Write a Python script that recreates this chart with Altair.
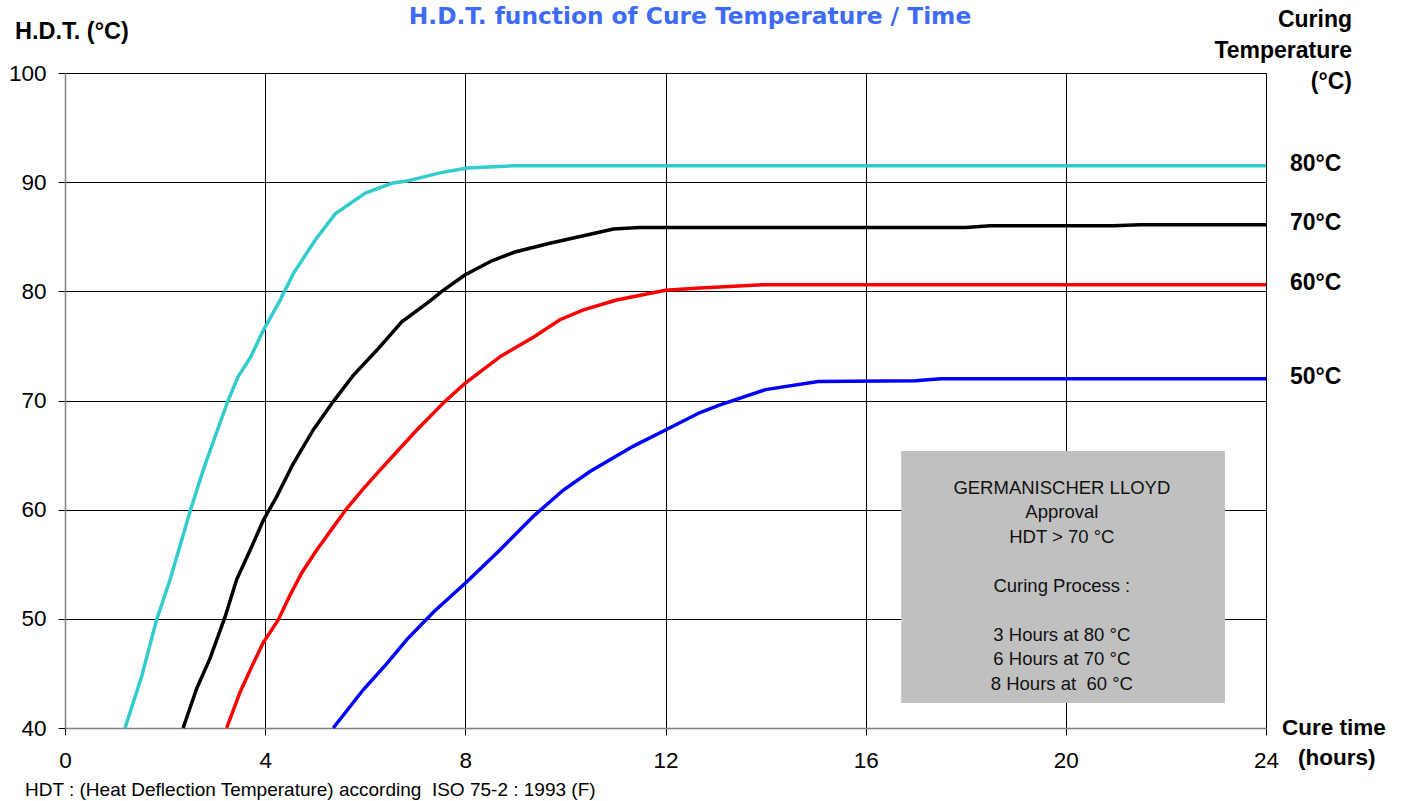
import altair as alt
import pandas as pd

FONT = "Liberation Sans"
NBSP = "\u00a0"

# ---- data ----
t80 = [1.2, 1.53, 1.83, 2.1, 2.33, 2.53, 2.76, 3.0, 3.26, 3.46, 3.7, 3.96, 4.3, 4.56, 5.0, 5.4,
       6.0, 6.53, 6.83, 7.49, 8.03, 8.95, 24]
h80 = [40.0, 44.7, 49.9, 53.6, 57.2, 60.3, 63.6, 66.7, 70.0, 72.2, 73.9, 76.4, 79.2, 81.6, 84.7, 87.1,
       89.0, 89.9, 90.1, 90.85, 91.3, 91.5, 91.5]

t70 = [2.36, 2.63, 2.9, 3.2, 3.43, 3.73, 3.96, 4.23, 4.56, 4.96, 5.36, 5.76, 6.23, 6.73, 7.29, 7.53,
       7.99, 8.53, 8.99, 9.69, 10.96, 11.49, 18.0, 18.49, 20.95, 21.48, 24]
h70 = [40.0, 43.6, 46.4, 50.2, 53.6, 56.6, 59.0, 61.2, 64.2, 67.3, 69.9, 72.3, 74.6, 77.2, 79.1, 80.0,
       81.5, 82.8, 83.6, 84.4, 85.7, 85.85, 85.85, 86.0, 86.0, 86.1, 86.1]

t60 = [3.23, 3.5, 3.73, 3.96, 4.26, 4.5, 4.73, 5.03, 5.36, 5.63, 5.96, 6.29, 6.53, 7.03, 7.59, 8.0,
       8.69, 9.36, 9.89, 10.36, 11.02, 12.0, 12.69, 13.95, 24]
h60 = [40.0, 43.3, 45.6, 47.8, 49.9, 52.2, 54.2, 56.3, 58.4, 60.1, 61.9, 63.6, 64.8, 67.3, 69.9, 71.6,
       74.0, 75.8, 77.4, 78.3, 79.2, 80.1, 80.3, 80.6, 80.6]

t50 = [5.36, 5.96, 6.43, 6.83, 7.36, 8.03, 8.69, 9.36, 9.96, 10.49, 11.35, 12.0, 12.69, 13.09, 14.0,
       15.05, 17.0, 17.5, 24]
h50 = [40.0, 43.5, 45.9, 48.1, 50.6, 53.4, 56.3, 59.4, 61.8, 63.5, 65.8, 67.3, 68.9, 69.6, 71.0,
       71.75, 71.8, 72.0, 72.0]

series_names = ["80°C", "70°C", "60°C", "50°C"]
series_colors = ["#33CCCC", "#000000", "#FF0000", "#0000FF"]
x_ticks = [0, 4, 8, 12, 16, 20, 24]
y_ticks = [40, 50, 60, 70, 80, 90, 100]

box_lines = ["GERMANISCHER LLOYD", "Approval", "HDT > 70 °C", "", "Curing Process :", "",
             "3 Hours at 80 °C", "6 Hours at 70 °C", "8 Hours at " + NBSP + "60 °C"]

# ---- tables ----
rows = []
for name, ts, hs in zip(series_names, [t80, t70, t60, t50], [h80, h70, h60, h50]):
    for i, (t, h) in enumerate(zip(ts, hs)):
        rows.append({"series": name, "t": t, "h": h, "order": i})
df = pd.DataFrame(rows)

ends = pd.DataFrame({"series": series_names,
                     "t": [ts[-1] for ts in [t80, t70, t60, t50]],
                     "h": [hs[-1] for hs in [h80, h70, h60, h50]]})

xscale = alt.Scale(domain=[0, 24], nice=False, zero=False)
yscale = alt.Scale(domain=[40, 100], nice=False, zero=False)
cscale = alt.Scale(domain=series_names, range=series_colors)

xaxis = alt.Axis(values=x_ticks, title=None, grid=True, gridColor="#000000", gridWidth=1,
                 tickColor="#000000", tickSize=7, domainColor="#808080", domainWidth=1.5,
                 labelFont=FONT, labelFontSize=22.5, labelColor="#000000", labelPadding=14,
                 labelFlush=False)
yaxis = alt.Axis(values=y_ticks, title=None, grid=True, gridColor="#000000", gridWidth=1,
                 tickColor="#000000", tickSize=7, domainColor="#808080", domainWidth=1.5,
                 labelFont=FONT, labelFontSize=22.5, labelColor="#000000", labelPadding=12,
                 labelFlush=False)

lines = alt.Chart(df).mark_line(strokeWidth=3.5).encode(
    x=alt.X("t:Q", scale=xscale, axis=xaxis),
    y=alt.Y("h:Q", scale=yscale, axis=yaxis),
    color=alt.Color("series:N", scale=cscale, legend=None),
    detail="series:N",
    order="order:Q",
)

labels = alt.Chart(ends).mark_text(align="left", baseline="middle", dx=24, dy=-2,
                                   font=FONT, fontSize=23, fontWeight="bold",
                                   color="#000000").encode(
    x=alt.X("t:Q", scale=xscale),
    y=alt.Y("h:Q", scale=yscale),
    text="series:N",
)

box = alt.Chart(pd.DataFrame({"x": [16.71], "x2": [23.18], "y": [65.37], "y2": [42.29]})).mark_rect(
    color="#C0C0C0").encode(
    x=alt.X("x:Q", scale=xscale), x2="x2:Q",
    y=alt.Y("y:Q", scale=yscale), y2="y2:Q",
)

# one row per non-empty line; blank lines just leave a gap of one line height
LINE_STEP = 24.5 / 10.92   # one text line, expressed in y-axis units
box_rows = [{"x": 19.92, "y": 62.0 - i * LINE_STEP, "txt": s}
            for i, s in enumerate(box_lines) if s]
box_text = alt.Chart(pd.DataFrame(box_rows)).mark_text(
    align="center", baseline="middle", font=FONT, fontSize=18.5, color="#111111").encode(
    x=alt.X("x:Q", scale=xscale),
    y=alt.Y("y:Q", scale=yscale),
    text="txt:N",
)


def note(text, x, y, size, weight="normal", align="left", color="#000000", font=FONT):
    return alt.Chart(pd.DataFrame({"t": [text]})).mark_text(
        align=align, baseline="middle", font=font, fontSize=size, fontWeight=weight,
        color=color).encode(text="t:N", x=alt.value(x), y=alt.value(y))


notes = [
    note("H.D.T. function of Cure Temperature / Time", 625, -56, 23.3, "bold", "center", "#3D6BF5",
         "DejaVu Sans"),
    note("H.D.T. (°C)", -50, -41, 23.5, "bold"),
    note("Curing", 1287, -53, 23, "bold", "right"),
    note("Temperature", 1287, -22, 23, "bold", "right"),
    note("(°C)", 1287, 9, 23, "bold", "right"),
    note("Cure time", 1217, 654.5, 22.5, "bold"),
    note("(hours)", 1233, 685, 22.5, "bold"),
    note("HDT : (Heat Deflection Temperature) according " + NBSP + "ISO 75-2 : 1993 (F)",
         -40, 717, 19),
]

chart = alt.layer(box, lines, labels, box_text, *notes).properties(
    width=1201, height=655,
    autosize=alt.AutoSizeParams(type="none"),
    padding={"left": 65, "top": 73, "right": 140, "bottom": 73},
    background="#FFFFFF",
).configure_view(stroke=None)

chart.save("out.html", embed_options={"renderer": "svg", "actions": False})
